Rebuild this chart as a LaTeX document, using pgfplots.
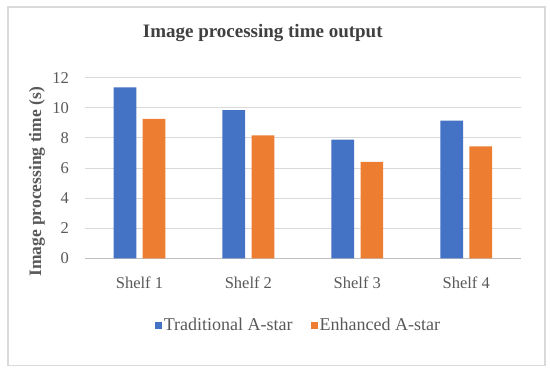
\documentclass[border=0pt]{standalone}
\usepackage{pgfplots}
\pgfplotsset{compat=1.18}
\usepackage{fontspec}
\setmainfont{Liberation Serif}
\definecolor{tblue}{HTML}{4472C4}
\definecolor{eorange}{HTML}{ED7D31}
\definecolor{gridc}{HTML}{D9D9D9}
\definecolor{axc}{HTML}{BFBFBF}
\definecolor{txt}{HTML}{595959}
\definecolor{ttl}{HTML}{404040}
\begin{document}
\begin{tikzpicture}[x=1pt,y=1pt]
\useasboundingbox (0,0) rectangle (550,375);
\draw[gridc, line width=1.3pt] (8,9.3) rectangle (545,368);
\begin{axis}[
  at={(85pt,116.7pt)}, anchor=south west,
  scale only axis, width=435.7pt, height=180.6pt,
  xmin=-0.5, xmax=3.5, ymin=0, ymax=12,
  xtick={0,1,2,3},
  xticklabels={Shelf 1, Shelf 2, Shelf 3, Shelf 4},
  ytick={0,2,4,6,8,10,12},
  /pgf/number format/assume math mode=true,
  axis x line*=bottom, axis y line*=left,
  x axis line style={axc, line width=0.9pt, -},
  y axis line style={draw=none},
  xtick style={draw=none}, ytick style={draw=none},
  ymajorgrids, grid style={gridc, line width=0.9pt},
  yticklabel style={font=\fontsize{16.5}{16.5}\selectfont, text=txt, anchor=east, inner sep=0pt, xshift=-16pt},
  xticklabel style={font=\fontsize{16.5}{16.5}\selectfont, text=txt, anchor=north, inner sep=0pt, yshift=-14pt},
  ylabel={Image processing time (s)},
  ylabel style={font=\bfseries\fontsize{17.5}{17.5}\selectfont, text=txt, at={(-48pt,0.423)}, anchor=center, rotate=0},
  title={Image processing time output},
  title style={font=\bfseries\fontsize{19}{19}\selectfont, text=ttl, at={(0.408,1)}, anchor=base, yshift=34.5pt},
  ybar, bar width=22.7pt,
  legend columns=2,
  legend style={at={(0.49,-0.372)}, anchor=center, draw=none, fill=none,
    font=\fontsize{18}{18}\selectfont, text=txt,
    /tikz/every even column/.append style={column sep=16pt}},
  legend image code/.code={\fill[#1] (2pt,-3.5pt) rectangle (9pt,3.5pt);},
]
\addplot[fill=tblue, draw=none, bar shift=-14.55pt] coordinates {(0,11.36) (1,9.85) (2,7.88) (3,9.14)};
\addlegendentry{Traditional A-star}
\addplot[fill=eorange, draw=none, bar shift=14.55pt] coordinates {(0,9.26) (1,8.17) (2,6.40) (3,7.44)};
\addlegendentry{Enhanced A-star}
\end{axis}
\end{tikzpicture}
\end{document}
